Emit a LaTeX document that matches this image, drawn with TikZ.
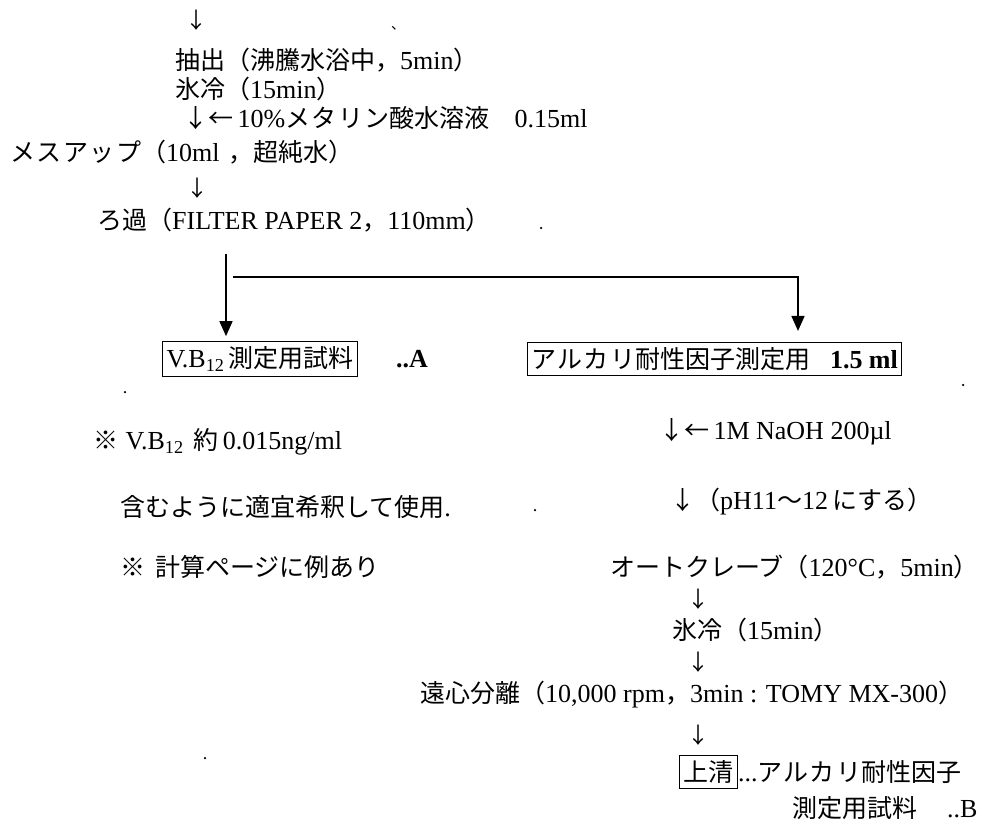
\documentclass[tikz,border=0pt]{standalone}
\usepackage{fontspec}
\setmainfont{Liberation Serif}
\newfontfamily\jp{Noto Sans CJK JP}
\newfontfamily\jpk[LetterSpace=6]{Noto Sans CJK JP}
\newcommand\lt[1]{{\rmfamily\fontsize{26}{28}\selectfont #1}}
\newcommand\kt[1]{{\jpk #1}}
\usetikzlibrary{arrows.meta}
\tikzset{
  txt/.style={anchor=west, inner sep=0pt, font=\jp\fontsize{25}{28}\selectfont},
  arr/.style={anchor=center, inner sep=0pt, font=\jp\fontsize{22}{24}\selectfont},
  boxed/.style={txt, draw, line width=1pt, inner xsep=4pt, inner ysep=5pt},
  bigarrow/.style={line width=1.6pt, -{Triangle[width=13pt,length=15pt]}},
  speck/.style={fill=black, circle, inner sep=0pt, minimum size=2.5pt}
}
\begin{document}
\begin{tikzpicture}[x=1pt,y=-1pt]
\useasboundingbox (0,0) rectangle (996,828);
\fill[white] (0,0) rectangle (996,828);
% left column, top part
\node[arr] (d1) at (196,20) {↓};
\node[anchor=center, inner sep=0pt, font=\jp\fontsize{14}{16}\selectfont] (tick) at (398,28) {、};
\node[txt] (extract) at (175,60) {抽出（沸騰水浴中，\lt{5min}）};
\node[txt] (cool1) at (175,89) {氷冷（\lt{15min}）};
\node[txt] (acid) at (183,118) {↓←\lt{\,10\%}\kt{メタリン}酸水溶液\hspace{1em}\lt{0.15ml}};
\node[txt] (mess) at (10,152) {\kt{メスアップ}（\lt{10ml}\hspace{0.35em}，超純水）};
\node[arr] (d2) at (197,188) {↓};
\node[txt] (filt) at (97,220) {ろ過（\lt{FILTER PAPER 2}，\lt{110mm}）};
% boxes
\node[boxed] (boxA) at (162,359) {\lt{V.B\textsubscript{12}}\,測定用試料};
\node[txt] (labA) at (396,359) {\lt{\textbf{..A}}};
\node[boxed] (boxB) at (527,359) {\kt{アルカリ}耐性因子測定用\hspace{0.8em}\lt{\textbf{1.5 ml}}};
% branching arrows
\coordinate (splitL) at (226,254);
\coordinate (hstart) at (233,277);
\coordinate (hend) at (798,277);
\draw[bigarrow, shorten >=5pt] (splitL) -- (splitL |- boxA.north);
\draw[bigarrow, shorten >=11pt] (hstart) -- (hend) -- (hend |- boxB.north);
% left notes
\node[txt] (note1) at (93,442) {※\hspace{0.3em}\lt{V.B\textsubscript{12}}\hspace{0.4em}約\,\lt{0.015ng/ml}};
\node[txt] (note2) at (120,507) {含むように適宜希釈して使用\lt{.}};
\node[txt] (note3) at (120,567) {※\hspace{0.4em}計算ページに例あり};
% right column
\node[txt] (naoh) at (659,432) {↓←\lt{\,1M NaOH 200µl}};
\node[txt] (ph) at (670,502) {↓（\lt{pH11}〜\lt{12}\,にする）};
\node[txt] (auto) at (610,567) {オートクレーブ（\lt{120°C}，\lt{5min}）};
\node[arr] (d3) at (698,599) {↓};
\node[txt] (cool2) at (672,630) {氷冷（\lt{15min}）};
\node[arr] (d4) at (698,662) {↓};
\node[txt] (cent) at (420,695) {遠心分離（\lt{10,000 rpm}，\lt{3min : TOMY MX-300}）};
\node[arr] (d5) at (698,735) {↓};
\node[boxed] (sup) at (679,772) {上清};
\node[txt, anchor=west] (supt) at (sup.east) {\lt{...}\kt{アルカリ}耐性因子};
\node[txt] (supb) at (792,808) {測定用試料\hspace{1.2em}\lt{..B}};
% scan specks
\node[speck] (s1) at (541,228) {};
\node[speck] (s2) at (125,392) {};
\node[speck] (s3) at (535,510) {};
\node[speck] (s4) at (963,385) {};
\node[speck] (s5) at (205,758) {};
\end{tikzpicture}
\end{document}
